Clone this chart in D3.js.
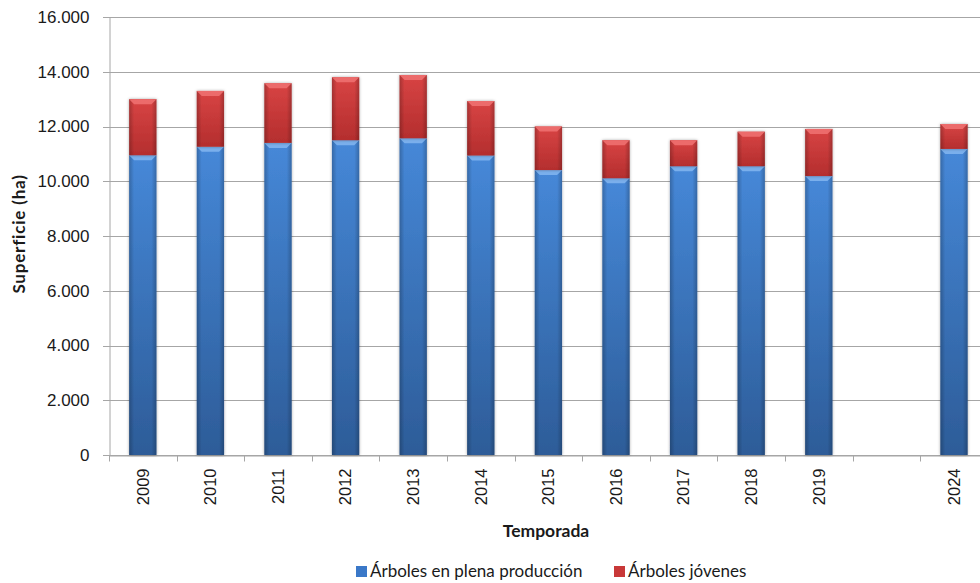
<!DOCTYPE html>
<html>
<head>
<meta charset="utf-8">
<script src="https://cdn.jsdelivr.net/npm/d3@7"></script>
<style>
  html, body { margin: 0; padding: 0; background: #fff; }
  svg { display: block; font-family: Lato, "Open Sans", sans-serif; }
</style>
</head>
<body>
<svg id="chart" width="980" height="583"></svg>
<script>
// Superficie por temporada (ha)
const temporadas = ["2009", "2010", "2011", "2012", "2013", "2014", "2015", "2016", "2017", "2018", "2019", "", "2024"];
const plenaProduccion = [10950, 11260, 11400, 11500, 11570, 10940, 10410, 10110, 10550, 10550, 10190, null, 11180];
const jovenes = [2050, 2040, 2180, 2300, 2310, 1990, 1590, 1390, 950, 1260, 1720, null, 910];
const yTicks = [0, 2000, 4000, 6000, 8000, 10000, 12000, 14000, 16000];
const seriesNames = ["Árboles en plena producción", "Árboles jóvenes"];

const svg = d3.select("#chart");
const plotLeft = 109, plotTop = 17, plotBottom = 455;
const step = 67.6;
const plotRight = plotLeft + step * temporadas.length;

const x = d3.scaleBand().domain(temporadas).range([plotLeft, plotRight]).padding(0);
const y = d3.scaleLinear().domain([0, 16000]).range([plotBottom, plotTop]);
const barW = x.bandwidth() * 0.404;

const fmt = v => d3.format(",")(v).replace(/,/g, ".");

// gradients
const defs = svg.append("defs");
function shade(id, c0, c1) {
  const g = defs.append("linearGradient").attr("id", id)
    .attr("x1", 0).attr("y1", 0).attr("x2", 0).attr("y2", 1);
  g.append("stop").attr("offset", "0%").attr("stop-color", c0);
  g.append("stop").attr("offset", "100%").attr("stop-color", c1);
}
shade("gBlue", "#4688d8", "#2d5c98");
shade("gRed", "#d84444", "#b42e2e");
const side = defs.append("linearGradient").attr("id", "gSide")
  .attr("x1", 0).attr("y1", 0).attr("x2", 1).attr("y2", 0);
side.append("stop").attr("offset", "0%").attr("stop-color", "#000").attr("stop-opacity", 0.22);
side.append("stop").attr("offset", "18%").attr("stop-color", "#000").attr("stop-opacity", 0.0);
side.append("stop").attr("offset", "82%").attr("stop-color", "#000").attr("stop-opacity", 0.0);
side.append("stop").attr("offset", "100%").attr("stop-color", "#000").attr("stop-opacity", 0.22);
const shadow = defs.append("filter").attr("id", "shadow")
  .attr("x", "-30%").attr("y", "-10%").attr("width", "160%").attr("height", "120%");
shadow.append("feDropShadow").attr("dx", 0).attr("dy", 0).attr("stdDeviation", 1.4)
  .attr("flood-color", "#000").attr("flood-opacity", 0.35);

// gridlines
svg.append("g").selectAll("line").data(yTicks).join("line")
  .attr("x1", plotLeft - 6).attr("x2", 980)
  .attr("y1", d => Math.round(y(d)) + 0.5).attr("y2", d => Math.round(y(d)) + 0.5)
  .attr("stroke", "#a6a6a6").attr("stroke-width", 1);

// y axis
const yAxis = svg.append("g").attr("transform", `translate(${plotLeft + 0.5},0)`)
  .call(d3.axisLeft(y).tickValues(yTicks).tickFormat(fmt).tickSize(0).tickPadding(20));
yAxis.select(".domain").attr("stroke", "#a6a6a6");
yAxis.selectAll("text").attr("font-size", 17).attr("fill", "#1a1a1a");

// x axis
const xAxis = svg.append("g").attr("transform", `translate(0,${Math.round(plotBottom) + 0.5})`)
  .call(d3.axisBottom(x).tickSize(0).tickFormat(d => d));
xAxis.select(".domain").attr("stroke", "#a6a6a6");
xAxis.selectAll(".tick text")
  .attr("transform", "rotate(-90)")
  .attr("text-anchor", "end")
  .attr("x", -13).attr("y", 0).attr("dy", "0.35em")
  .attr("font-size", 16.5).attr("fill", "#1a1a1a");
// category boundary ticks
xAxis.append("g").selectAll("line").data(d3.range(temporadas.length + 1)).join("line")
  .attr("x1", i => Math.round(plotLeft + i * step) + 0.5).attr("x2", i => Math.round(plotLeft + i * step) + 0.5)
  .attr("y1", 0).attr("y2", 6).attr("stroke", "#a6a6a6");

// stacked bars
const rows = temporadas.map((t, i) => ({ t, a: plenaProduccion[i], b: jovenes[i] }))
  .filter(r => r.a != null);
const stack = d3.stack().keys(["a", "b"]);
const layers = stack(rows);
const fills = ["url(#gBlue)", "url(#gRed)"];
const bevel = ["#7fb4ee", "#ee7070"];

layers.forEach((layer, li) => {
  const g = svg.append("g");
  layer.forEach(d => {
    const cx = x(d.data.t) + x.bandwidth() / 2;
    const x0 = cx - barW / 2;
    const y0 = y(d[1]), y1 = y(d[0]);
    const h = y1 - y0;
    g.append("rect").attr("x", x0).attr("y", y0).attr("width", barW).attr("height", h)
      .attr("fill", fills[li]).attr("filter", "url(#shadow)");
    g.append("rect").attr("x", x0).attr("y", y0).attr("width", barW).attr("height", h)
      .attr("fill", "url(#gSide)");
    // top bevel
    const bv = 5;
    g.append("path")
      .attr("d", `M${x0},${y0} L${x0 + barW},${y0} L${x0 + barW - bv},${y0 + bv} L${x0 + bv},${y0 + bv} Z`)
      .attr("fill", bevel[li]).attr("opacity", 0.9);
  });
});

// axis titles
svg.append("text").attr("x", 546).attr("y", 537)
  .attr("text-anchor", "middle").attr("font-weight", "bold").attr("font-size", 17.5)
  .attr("fill", "#1a1a1a").text("Temporada");
svg.append("text").attr("transform", "translate(25,234) rotate(-90)")
  .attr("text-anchor", "middle").attr("font-weight", "bold").attr("font-size", 17)
  .attr("letter-spacing", 0.8)
  .attr("fill", "#1a1a1a").text("Superficie (ha)");

// legend
const legendX = [356, 614];
const legColors = ["#3a78c8", "#c83838"];
const leg = svg.append("g");
seriesNames.forEach((n, i) => {
  leg.append("rect").attr("x", legendX[i]).attr("y", 566).attr("width", 11).attr("height", 11)
    .attr("fill", legColors[i]);
  leg.append("text").attr("x", legendX[i] + 14).attr("y", 577)
    .attr("font-size", 17).attr("fill", "#1a1a1a").text(n);
});
</script>
</body>
</html>
